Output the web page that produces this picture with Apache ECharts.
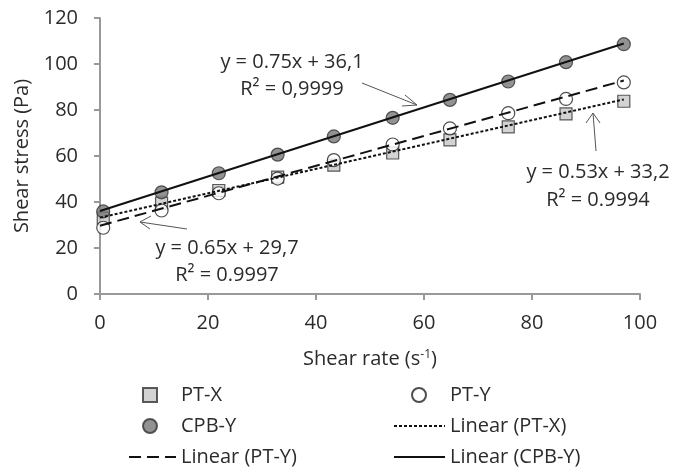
<!DOCTYPE html>
<html>
<head>
<meta charset="utf-8">
<script src="https://cdn.jsdelivr.net/npm/echarts@6/dist/echarts.min.js"></script>
<style>
  html, body { margin: 0; padding: 0; background: #fff; }
  #chart { width: 675px; height: 470px; }
</style>
</head>
<body>
<div id="chart"></div>
<script>
// data
var shearRate = [0.6, 11.4, 22, 32.9, 43.3, 54.2, 64.8, 75.6, 86.3, 97];
var ptX  = [33, 39.5, 45, 50.8, 56, 61.3, 67, 72.7, 78.3, 83.8];
var ptY  = [28.8, 36.3, 43.8, 50.2, 58.2, 65, 72, 78.6, 84.8, 92];
var cpbY = [35.9, 44.2, 52.5, 60.6, 68.5, 76.6, 84.4, 92.4, 100.8, 108.6];

// trendline end points (x = 0 and x = 97)
var trendX    = [0, 97];
var trendPtX  = [33.2, 84.6];
var trendPtY  = [29.7, 92.8];
var trendCpbY = [36.1, 108.9];

var yTicks = [0, 20, 40, 60, 80, 100, 120];
var xTicks = [0, 20, 40, 60, 80, 100];

function pairs(xs, ys) {
  return xs.map(function (x, i) { return [x, ys[i]]; });
}

var font = '"Open Sans", "Noto Sans", sans-serif';
var txt = '#2b2b2b';
var fs = 20;

var chart = echarts.init(document.getElementById('chart'));

// scatter legends get a wider gap between marker and text
var scatterLegend = {
  itemWidth: 14, itemHeight: 14,
  textStyle: { fontSize: fs, color: txt, fontFamily: font, padding: [0, 0, 0, 19] }
};
var lineLegend = {
  itemHeight: 14,
  itemStyle: { color: 'transparent', borderWidth: 0, opacity: 0 },
  textStyle: { fontSize: fs, color: txt, fontFamily: font }
};

var option = {
  backgroundColor: '#fff',
  animation: false,
  textStyle: { fontFamily: font, color: txt },
  grid: { left: 100, right: 35, top: 18, bottom: 176 },
  xAxis: {
    type: 'value',
    min: xTicks[0], max: xTicks[xTicks.length - 1], interval: 20,
    name: 'Shear rate (s{sup|-1})',
    nameLocation: 'middle',
    nameGap: 55,
    nameTextStyle: {
      fontSize: fs, color: txt, fontFamily: font,
      rich: { sup: { fontSize: 12, verticalAlign: 'top', padding: [0, 0, 9, 0], color: txt, fontFamily: font } }
    },
    axisLine: { lineStyle: { color: '#999', width: 2 } },
    axisTick: { show: true, inside: false, length: 6, lineStyle: { color: '#999', width: 2 } },
    axisLabel: { fontSize: fs, color: txt, margin: 19, fontFamily: font },
    splitLine: { show: false }
  },
  yAxis: {
    type: 'value',
    min: yTicks[0], max: yTicks[yTicks.length - 1], interval: 20,
    name: 'Shear stress (Pa)',
    nameLocation: 'middle',
    nameGap: 67,
    nameTextStyle: { fontSize: fs, color: txt, fontFamily: font },
    axisLine: { show: true, lineStyle: { color: '#999', width: 2 } },
    axisTick: { show: true, inside: false, length: 6, lineStyle: { color: '#999', width: 2 } },
    axisLabel: { fontSize: fs, color: txt, margin: 22, fontFamily: font },
    splitLine: { show: false }
  },
  legend: [
    Object.assign({ data: ['PT-X'], left: 137, top: 380 }, scatterLegend),
    Object.assign({ data: ['PT-Y'], left: 406, top: 380 }, scatterLegend),
    Object.assign({ data: ['CPB-Y'], left: 137, top: 411 }, scatterLegend),
    Object.assign({ data: ['Linear (PT-X)'], left: 388, top: 411, itemWidth: 51 }, lineLegend),
    Object.assign({ data: ['Linear (PT-Y)'], left: 123, top: 442, itemWidth: 47 }, lineLegend),
    Object.assign({ data: ['Linear (CPB-Y)'], left: 388, top: 442, itemWidth: 51 }, lineLegend)
  ].map(function (l) { l.selectedMode = false; return l; }),
  series: [
    {
      name: 'PT-X', type: 'scatter', symbol: 'rect', symbolSize: 12,
      data: pairs(shearRate, ptX),
      itemStyle: { color: '#c8c8c8', borderColor: '#333', borderWidth: 1.2 },
      z: 2
    },
    {
      name: 'PT-Y', type: 'scatter', symbol: 'circle', symbolSize: 13,
      data: pairs(shearRate, ptY),
      itemStyle: { color: '#fff', borderColor: '#222', borderWidth: 1.2 },
      z: 2
    },
    {
      name: 'CPB-Y', type: 'scatter', symbol: 'circle', symbolSize: 13,
      data: pairs(shearRate, cpbY),
      itemStyle: { color: '#777', borderColor: '#333', borderWidth: 1.2 },
      z: 2
    },
    {
      name: 'Linear (PT-X)', type: 'line', symbol: 'none',
      data: pairs(trendX, trendPtX),
      lineStyle: { color: '#111', width: 2, type: [3, 2] },
      itemStyle: { color: '#111' },
      z: 3
    },
    {
      name: 'Linear (PT-Y)', type: 'line', symbol: 'none',
      data: pairs(trendX, trendPtY),
      lineStyle: { color: '#111', width: 2, type: [12, 6] },
      itemStyle: { color: '#111' },
      z: 3
    },
    {
      name: 'Linear (CPB-Y)', type: 'line', symbol: 'none',
      data: pairs(trendX, trendCpbY),
      lineStyle: { color: '#111', width: 2, type: 'solid' },
      itemStyle: { color: '#111' },
      z: 3
    }
  ],
  graphic: [
    // CPB-Y equation
    { type: 'text', x: 292, y: 62, style: { text: 'y = 0.75x + 36,1', font: fs + 'px ' + font, fill: txt, align: 'center', verticalAlign: 'middle' } },
    { type: 'text', x: 292, y: 89, style: { text: 'R² = 0,9999', font: fs + 'px ' + font, fill: txt, align: 'center', verticalAlign: 'middle' } },
    { type: 'line', shape: { x1: 362, y1: 83, x2: 417, y2: 105 }, style: { stroke: '#555', lineWidth: 1 } },
    { type: 'polyline', shape: { points: [[405, 95], [417, 105], [402, 106]] }, style: { stroke: '#555', lineWidth: 1, fill: null } },
    // PT-X equation
    { type: 'text', x: 598, y: 172, style: { text: 'y = 0.53x + 33,2', font: fs + 'px ' + font, fill: txt, align: 'center', verticalAlign: 'middle' } },
    { type: 'text', x: 598, y: 200, style: { text: 'R² = 0.9994', font: fs + 'px ' + font, fill: txt, align: 'center', verticalAlign: 'middle' } },
    { type: 'line', shape: { x1: 596, y1: 151, x2: 593, y2: 113 }, style: { stroke: '#555', lineWidth: 1 } },
    { type: 'polyline', shape: { points: [[586, 123], [593, 113], [600, 123]] }, style: { stroke: '#555', lineWidth: 1, fill: null } },
    // PT-Y equation
    { type: 'text', x: 227, y: 248, style: { text: 'y = 0.65x + 29,7', font: fs + 'px ' + font, fill: txt, align: 'center', verticalAlign: 'middle' } },
    { type: 'text', x: 227, y: 275, style: { text: 'R² = 0.9997', font: fs + 'px ' + font, fill: txt, align: 'center', verticalAlign: 'middle' } },
    { type: 'line', shape: { x1: 187, y1: 229, x2: 140, y2: 222 }, style: { stroke: '#555', lineWidth: 1 } },
    { type: 'polyline', shape: { points: [[151, 216], [140, 222], [150, 229]] }, style: { stroke: '#555', lineWidth: 1, fill: null } }
  ]
};

chart.setOption(option);
</script>
</body>
</html>
